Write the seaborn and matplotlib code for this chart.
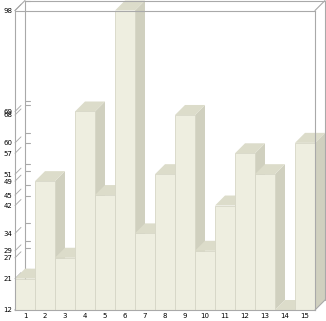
import matplotlib
matplotlib.use("Agg")
import matplotlib.pyplot as plt
import seaborn as sns
import numpy as np
import pandas as pd
from matplotlib.patches import Polygon

# ---- data ----
categories = [str(i) for i in range(1, 16)]
values = [21, 49, 27, 69, 45, 98, 34, 51, 68, 29, 42, 57, 51, 12, 60]
tick_values = sorted(set(values))
y_min, y_max = 12, 98

# ---- styles ----
FRONT = "#EEEEE0"
TOP = "#DCDCCA"
SIDE = "#D0D0BF"
EDGE = "#D6D6C6"
FRAME = "#A9A9A9"

sns.set_style("white")
plt.rcParams["font.family"] = ["DejaVu Sans"]

W, H = 326, 321
fig = plt.figure(figsize=(W / 100, H / 100), dpi=100)
fig.patch.set_facecolor("white")
ax = fig.add_axes([15 / W, 11 / H, 300 / W, 299.5 / H])

df = pd.DataFrame({"cat": categories, "val": values})
sns.barplot(data=df, x="cat", y="val", ax=ax, color=FRONT, width=1.0,
            saturation=1, edgecolor=EDGE, linewidth=0.6)

ax.set_xlim(-0.5, len(categories) - 0.5)
ax.set_ylim(y_min, y_max)
ax.set_facecolor("none")
ax.set_xlabel("")
ax.set_ylabel("")

# depth offset: 10 px right, 10 px up, expressed in data units
p0 = ax.transData.transform((0, y_min))
d = ax.transData.inverted().transform(p0 + np.array([10.0, 10.0]))
ddx, ddy = d[0] - 0, d[1] - y_min

x_lo, x_hi = ax.get_xlim()

# 3D faces of bars
for i, patch in enumerate(ax.patches):
    x0 = patch.get_x()
    w = patch.get_width()
    top = patch.get_y() + patch.get_height()
    bottom = max(patch.get_y(), y_min)
    base = 2 + 0.03 * i
    side = Polygon([(x0 + w, bottom), (x0 + w + ddx, bottom + ddy),
                    (x0 + w + ddx, top + ddy), (x0 + w, top)],
                   closed=True, facecolor=SIDE, edgecolor="none",
                   clip_on=False, zorder=base)
    topf = Polygon([(x0, top), (x0 + w, top), (x0 + w + ddx, top + ddy),
                    (x0 + ddx, top + ddy)],
                   closed=True, facecolor=TOP, edgecolor="none",
                   clip_on=False, zorder=base + 0.01)
    ax.add_patch(side)
    ax.add_patch(topf)
    patch.set_zorder(base + 0.02)

lw = 0.8
# back wall left edge and ticks (behind bars)
ax.plot([x_lo + ddx, x_lo + ddx], [y_min + ddy, y_max + ddy], color=FRAME,
        lw=lw, clip_on=False, zorder=1)
ax.plot([x_lo, x_lo + ddx], [y_min, y_min + ddy], color=FRAME,
        lw=lw, clip_on=False, zorder=1)
for v in tick_values:
    ax.plot([x_lo + ddx, x_lo + ddx + 0.25], [v + ddy, v + ddy], color=FRAME,
            lw=lw, clip_on=False, zorder=1)
    ax.plot([x_lo, x_lo + 0.6 * ddx], [v, v + 0.6 * ddy], color=FRAME,
            lw=lw * 0.8, clip_on=False, zorder=1)

# outer box edges (on top)
ax.plot([x_lo + ddx, x_hi + ddx], [y_max + ddy, y_max + ddy], color=FRAME,
        lw=lw, clip_on=False, zorder=10)
ax.plot([x_hi + ddx, x_hi + ddx], [y_min + ddy, y_max + ddy], color=FRAME,
        lw=lw, clip_on=False, zorder=10)
for (xa, ya) in [(x_lo, y_max), (x_hi, y_max), (x_hi, y_min)]:
    ax.plot([xa, xa + ddx], [ya, ya + ddy], color=FRAME, lw=lw,
            clip_on=False, zorder=10)

for s in ax.spines.values():
    s.set_color(FRAME)
    s.set_linewidth(lw)
    s.set_zorder(10)
    s.set_visible(True)

ax.set_yticks(tick_values)
ax.set_yticklabels([str(v) for v in tick_values])
ax.tick_params(axis="both", length=0, labelsize=5, colors="black")
ax.tick_params(axis="y", pad=2)
ax.tick_params(axis="x", pad=2.5)

fig.savefig("out.png", dpi=100)
